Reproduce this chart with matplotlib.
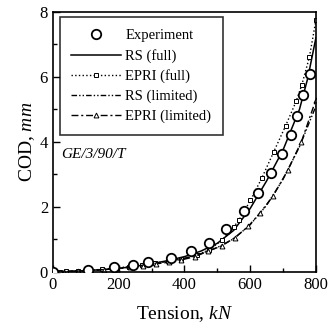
import matplotlib
matplotlib.use("Agg")
import matplotlib.pyplot as plt
from matplotlib.ticker import MultipleLocator

plt.rcParams['font.family'] = ['Liberation Serif', 'DejaVu Serif']
plt.rcParams['mathtext.fontset'] = 'custom'
plt.rcParams['mathtext.it'] = 'Liberation Serif:italic'
plt.rcParams['mathtext.rm'] = 'Liberation Serif'

# experiment
exp_x = [0, 107, 185, 244, 288, 358, 420, 475, 528, 581, 624, 662, 698, 723, 744, 762, 783]
exp_y = [0, 0.07, 0.15, 0.2, 0.3, 0.43, 0.64, 0.9, 1.32, 1.88, 2.42, 3.03, 3.63, 4.22, 4.8, 5.45, 6.1]

# RS (full)
rsf_x = [0, 50, 100, 150, 200, 250, 300, 350, 400, 450, 500, 550, 600, 650, 700, 750, 775, 800]
rsf_y = [0, 0.02, 0.04, 0.07, 0.11, 0.17, 0.25, 0.35, 0.47, 0.64, 0.88, 1.28, 1.95, 2.8, 3.75, 5.0, 5.95, 7.2]

# EPRI (full)
epf_x = [0, 20, 40, 75, 110, 150, 190, 230, 270, 310, 350, 391, 437, 475, 515, 550, 566, 601,
         636, 672, 708, 740, 757, 780, 800]
epf_y = [0, 0.01, 0.02, 0.03, 0.05, 0.08, 0.12, 0.16, 0.21, 0.27, 0.33, 0.39, 0.51, 0.68, 0.98,
         1.38, 1.6, 2.2, 2.9, 3.7, 4.5, 5.25, 5.75, 6.6, 7.74]

# RS (limited)
rsl_x = [0, 100, 200, 300, 400, 450, 500, 550, 600, 650, 700, 750, 800]
rsl_y = [0, 0.04, 0.11, 0.24, 0.42, 0.56, 0.75, 1.02, 1.45, 2.05, 2.85, 3.85, 5.1]

# EPRI (limited)
epl_x = [0, 35, 75, 115, 155, 195, 235, 275, 315, 354, 391, 432, 472, 513, 553, 594, 629,
         670, 715, 756, 800]
epl_y = [0, 0.01, 0.02, 0.04, 0.07, 0.1, 0.14, 0.19, 0.25, 0.3, 0.37, 0.47, 0.64, 0.8, 1.05,
         1.4, 1.8, 2.34, 3.14, 4.01, 5.3]

fig = plt.figure(figsize=(3.35, 3.3), dpi=100)
ax = fig.add_axes([0.158, 0.176, 0.785, 0.788])

ax.plot(exp_x, exp_y, 'o', ms=6.8, mfc='white', mec='black', mew=1.3, label='Experiment', zorder=5)
ax.plot(rsf_x, rsf_y, '-', color='black', lw=1.1, label='RS (full)')
ax.plot(epf_x, epf_y, ':', color='black', lw=1.0, marker='s', ms=3, mfc='white', mew=0.7,
        label='EPRI (full)')
ax.plot(rsl_x, rsl_y, color='black', lw=1.0, dashes=[4, 1.5, 1, 1.5, 1, 1.5],
        label='RS (limited)')
ax.plot(epl_x, epl_y, color='black', lw=1.0, dashes=[5, 2, 1.5, 2], marker='^', ms=3.5,
        mfc='white', mew=0.7, label='EPRI (limited)')

ax.set_xlim(0, 800)
ax.set_ylim(0, 8)
ax.xaxis.set_major_locator(MultipleLocator(200))
ax.xaxis.set_minor_locator(MultipleLocator(100))
ax.yaxis.set_major_locator(MultipleLocator(2))
ax.yaxis.set_minor_locator(MultipleLocator(1))
ax.tick_params(which='both', direction='in', labelsize=12, width=1)
ax.tick_params(which='major', length=5)
ax.tick_params(which='minor', length=3)
for s in ax.spines.values():
    s.set_linewidth(1.2)

ax.set_xlabel(r'Tension, $\mathit{kN}$', fontsize=14, labelpad=8)
ax.set_ylabel(r'COD, $\mathit{mm}$', fontsize=14, labelpad=2)

ax.text(25, 3.6, 'GE/3/90/T', fontsize=11, style='italic', va='center')

leg = ax.legend(loc='upper left', bbox_to_anchor=(0.015, 0.99), fontsize=10.5, frameon=True,
                fancybox=False, edgecolor='black', handlelength=3.4, borderpad=0.8,
                labelspacing=0.45, handletextpad=0.3, borderaxespad=0.2)
leg.get_frame().set_linewidth(1.2)

fig.savefig('out.png', dpi=100)
